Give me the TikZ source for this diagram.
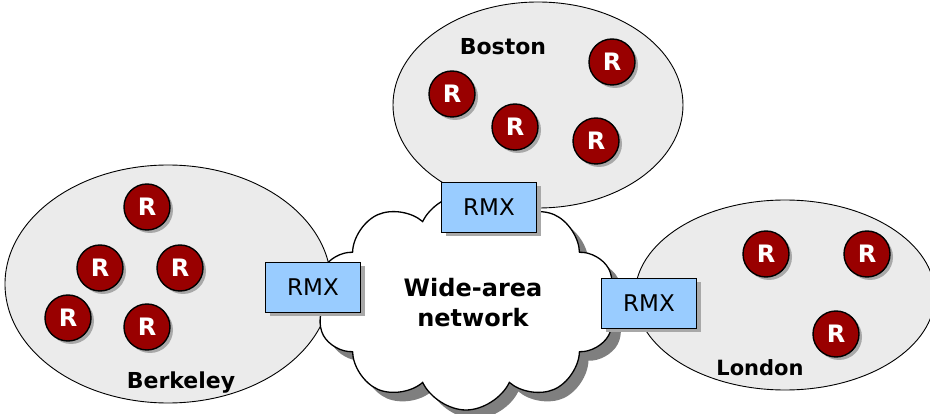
\documentclass[tikz,border=0pt]{standalone}
\usepackage{fontspec}
\setmainfont{DejaVu Sans}
\usepackage{tikz}
\usetikzlibrary{shapes.geometric,shapes.symbols,shadows}
\definecolor{siteG}{HTML}{EBEBEB}
\definecolor{rtrR}{HTML}{990000}
\definecolor{rmxB}{HTML}{99CCFF}
\definecolor{shdG}{HTML}{A8A8A8}
\definecolor{cldG}{HTML}{7F7F7F}
\tikzset{
  site/.style={ellipse,draw,fill=siteG,line width=0.9pt,inner sep=0pt},
  router/.style={circle,draw,line width=1.4pt,fill=rtrR,minimum size=46pt,inner sep=0pt,
    text=white,font=\fontsize{24}{24}\selectfont\bfseries,
    drop shadow={shadow xshift=3pt,shadow yshift=-3pt,fill=shdG,opacity=1}},
  rmx/.style={rectangle,draw,line width=0.9pt,fill=rmxB,minimum width=95pt,minimum height=50pt,
    inner sep=0pt,font=\fontsize{23}{23}\selectfont,
    drop shadow={shadow xshift=4pt,shadow yshift=-4pt,fill=shdG,opacity=1}},
  wan/.style={cloud,cloud puffs=10,cloud puff arc=130,aspect=1.45,draw,fill=white,line width=1.3pt,
    minimum width=300pt,minimum height=216pt,inner sep=0pt,
    drop shadow={shadow xshift=9pt,shadow yshift=-9pt,fill=cldG,opacity=1}},
  cityname/.style={font=\fontsize{22}{22}\selectfont\bfseries},
}

\begin{document}
\begin{tikzpicture}[x=1pt,y=-1pt]
\useasboundingbox (0,0) rectangle (930,414);
\node[site,minimum width=326pt,minimum height=238pt] (berkeley) at (168,284) {};
\node[site,minimum width=290pt,minimum height=206pt] (boston) at (538,105) {};
\node[site,minimum width=300pt,minimum height=190pt] (london) at (785,295) {};
\node[wan] (wan) at (466,302) {};
\node[font=\fontsize{24}{30}\selectfont\bfseries,align=center] (wantext) at (473,303) {Wide-area\\network};
\node[cityname] (bostonname) at (503,47) {Boston};
\node[cityname] (berkeleyname) at (181,383) {Berkeley};
\node[cityname,font=\fontsize{21}{21}\selectfont\bfseries] (londonname) at (760,368) {London};
\foreach \n/\x/\y in {bo1/452/94,bo2/612/62,bo3/515/127,bo4/596/141,
  be1/147/207,be2/100/268,be3/180/268,be4/68/318,be5/147/327,
  lo1/766/254,lo2/867/254,lo3/836/334}
  \node[router] (\n) at (\x,\y) {R};
\node[rmx] (rmxbo) at (489,207) {RMX};
\node[rmx] (rmxbe) at (313,287) {RMX};
\node[rmx] (rmxlo) at (649,303) {RMX};
\end{tikzpicture}
\end{document}
